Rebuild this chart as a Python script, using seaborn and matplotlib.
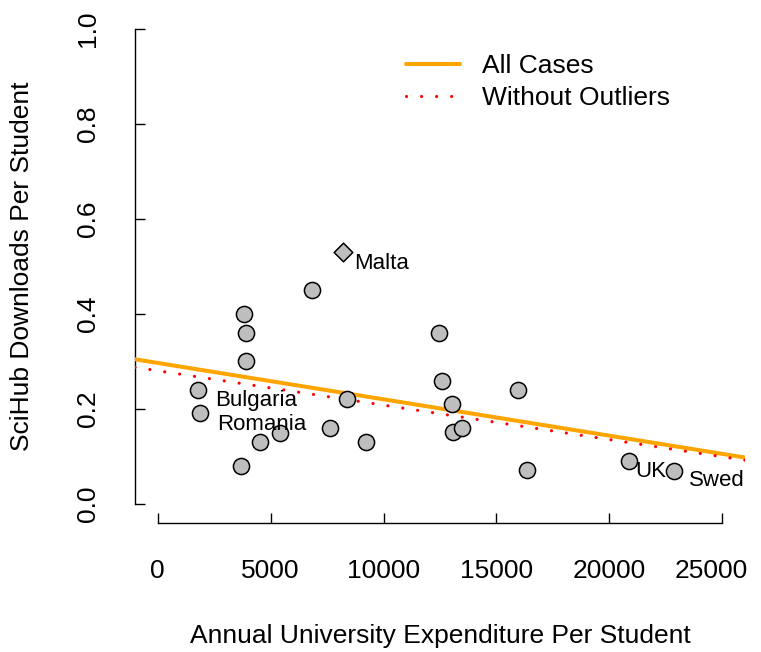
import numpy as np
import pandas as pd
import matplotlib
matplotlib.use("Agg")
import matplotlib.pyplot as plt
import matplotlib.transforms as mtransforms
import seaborn as sns

# ---- data ----
expend = [1790, 1860, 3670, 3810, 3900, 3930, 4520, 5410, 6840, 7650, 8390, 9210,
          12440, 12600, 13020, 13090, 13480, 15970, 16370, 20850, 22840]
downloads = [0.240, 0.191, 0.081, 0.400, 0.361, 0.301, 0.131, 0.150, 0.450, 0.161, 0.221, 0.131,
             0.361, 0.260, 0.211, 0.151, 0.161, 0.240, 0.072, 0.091, 0.070]
outlier_x = [8190]
outlier_y = [0.530]

label_text = ["Malta", "Bulgaria", "Romania", "UK", "Swed"]
label_x = [8690, 4340, 4630, 21850, 24770]
label_y = [0.507, 0.2175, 0.168, 0.069, 0.0505]
label_ha = ["left", "center", "center", "center", "center"]

fit_names = ["All Cases", "Without Outliers"]
fit_intercept = [0.297, 0.2806]
fit_slope = [-7.66e-6, -7.25e-6]

xticks = [0, 5000, 10000, 15000, 20000, 25000]
yticks = [0.0, 0.2, 0.4, 0.6, 0.8, 1.0]

# ---- style ----
sns.set_style("white")
plt.rcParams["font.family"] = ["Liberation Sans", "DejaVu Sans"]
plt.rcParams["text.color"] = "black"
FS = 19
FS_LAB = 16

fig = plt.figure(figsize=(7.61, 6.52), dpi=100)
ax = fig.add_axes([135 / 761, 1 - 523 / 652, 610 / 761, 513 / 652])

df = pd.DataFrame({"x": expend, "y": downloads})
sns.scatterplot(data=df, x="x", y="y", ax=ax, color="#BEBEBE", edgecolor="black",
                linewidth=1.1, s=135, zorder=4, legend=False)
sns.scatterplot(x=outlier_x, y=outlier_y, ax=ax, marker="D", color="#BEBEBE",
                edgecolor="black", linewidth=1.1, s=90, zorder=4, legend=False)

l1 = ax.axline((0, fit_intercept[0]), slope=fit_slope[0], color="#FFA500", lw=2.9,
               label=fit_names[0], zorder=3)
l2 = ax.axline((0, fit_intercept[1]), slope=fit_slope[1], color="red", lw=2.3,
               linestyle=(0, (0.01, 4.7)), dash_capstyle="round",
               label=fit_names[1], zorder=3)

for t, x, y, ha in zip(label_text, label_x, label_y, label_ha):
    ax.text(x, y, t, ha=ha, va="center", fontsize=FS_LAB, color="black", zorder=5)

ax.set_xlim(-1000, 26000)
ax.set_ylim(-0.04, 1.04)
ax.set_xticks(xticks)
ax.set_xticklabels([str(v) for v in xticks])
ax.set_yticks(yticks)
ax.set_yticklabels([f"{v:.1f}" for v in yticks])

for s in ["top", "right"]:
    ax.spines[s].set_visible(False)
for s in ["left", "bottom"]:
    ax.spines[s].set_color("black")
    ax.spines[s].set_linewidth(1.0)
ax.spines["bottom"].set_bounds(0, 25000)
ax.spines["left"].set_bounds(0, 1)

ax.tick_params(axis="both", which="major", bottom=True, left=True, direction="in",
               length=7.2, width=1.0, color="black", labelsize=FS, labelcolor="black")
ax.tick_params(axis="x", pad=26)
ax.tick_params(axis="y", pad=25.5, labelrotation=90)
for lab in ax.get_yticklabels():
    lab.set_va("center")

# the last x label sits slightly left of its tick in the reference
last = ax.xaxis.get_major_ticks()[-1].label1
last.set_transform(last.get_transform() +
                   mtransforms.ScaledTranslation(-11 / 100, 0, fig.dpi_scale_trans))

ax.set_xlabel("Annual University Expenditure Per Student", fontsize=FS, color="black")
ax.set_ylabel("SciHub Downloads Per Student", fontsize=FS, color="black")
ax.xaxis.set_label_coords(0.5, (523 - 636) / 513)
ax.xaxis.label.set_va("center")
ax.yaxis.set_label_coords((22 - 135) / 610, 0.5)
ax.yaxis.label.set_va("center")

ax.legend(handles=[l1, l2], loc="upper left",
          bbox_to_anchor=((406 - 135) / 610, (523 - 54) / 513),
          frameon=False, fontsize=FS, borderpad=0, borderaxespad=0, handlelength=2.05,
          handletextpad=0.83, labelspacing=0.3, labelcolor="black")

ax.set_facecolor("white")
fig.patch.set_facecolor("white")
fig.savefig("out.png", dpi=100)
